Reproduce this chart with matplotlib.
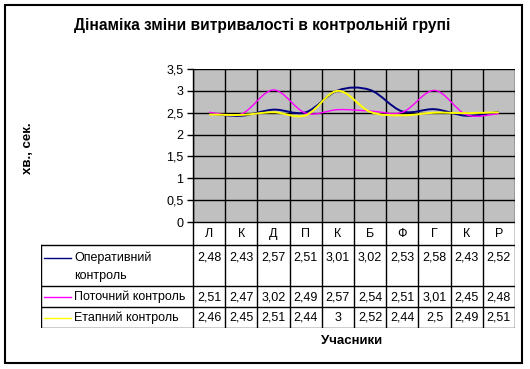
import matplotlib
matplotlib.use("Agg")

import matplotlib.pyplot as plt
import numpy as np
from matplotlib.patches import PathPatch, Rectangle
from matplotlib.path import Path

plt.rcParams["font.family"] = ["Liberation Sans", "DejaVu Sans"]

W, H = 530, 369

categories = ["Л", "К", "Д", "П", "К", "Б", "Ф", "Г", "К", "Р"]
series_names = ["Оперативний\nконтроль", "Поточний контроль", "Етапний контроль"]
operative = [2.48, 2.43, 2.57, 2.51, 3.01, 3.02, 2.53, 2.58, 2.43, 2.52]
current = [2.51, 2.47, 3.02, 2.49, 2.57, 2.54, 2.51, 3.01, 2.45, 2.48]
stage = [2.46, 2.45, 2.51, 2.44, 3, 2.52, 2.44, 2.5, 2.49, 2.51]
colors = ["#000080", "#FF00FF", "#FFFF00"]
y_ticks = [0, 0.5, 1, 1.5, 2, 2.5, 3, 3.5]

FS = 9  # table / tick font size


def px(x0, y0, x1, y1):
    # pixel box (top-left origin) -> figure fraction rect
    return [x0 / W, 1 - y1 / H, (x1 - x0) / W, (y1 - y0) / H]


def fmt(v):
    return f"{v:g}".replace(".", ",")


def smooth_path(xs, ys):
    # Excel-style smoothed line: cubic Bezier through every point
    pts = np.column_stack([xs, ys]).astype(float)
    ext = np.vstack([pts[0], pts, pts[-1]])
    verts = [pts[0]]
    codes = [Path.MOVETO]
    for i in range(len(pts) - 1):
        p0, p1, p2, p3 = ext[i], ext[i + 1], ext[i + 2], ext[i + 3]
        verts += [p1 + (p2 - p0) / 6, p2 - (p3 - p1) / 6, p2]
        codes += [Path.CURVE4] * 3
    return Path(verts, codes)


fig = plt.figure(figsize=(W / 100, H / 100), dpi=100)

# outer frame
fig.patches.append(Rectangle((5 / W, 1 - 363 / H), 517 / W, 358 / H,
                             transform=fig.transFigure, fill=False,
                             edgecolor="black", linewidth=1.5))

fig.text(262 / W, 1 - 25 / H, "Дінаміка зміни витривалості в контрольній групі",
         ha="center", va="center", fontsize=11.2, fontweight="bold")

# ── plot area ──────────────────────────────────────────────
ax = fig.add_axes(px(193, 69, 515, 222))
ax.set_facecolor("#C0C0C0")
ax.set_xlim(-0.5, len(categories) - 0.5)
ax.set_ylim(0, 3.5)
ax.set_yticks(y_ticks)
ax.set_yticklabels([fmt(v) for v in y_ticks], fontsize=FS)
ax.set_xticks([])
for k in range(len(categories) + 1):
    ax.axvline(k - 0.5, color="black", linewidth=1)
for v in y_ticks:
    ax.axhline(v, color="black", linewidth=1)
for s in ax.spines.values():
    s.set_visible(False)
ax.spines["left"].set_visible(True)
ax.spines["left"].set_linewidth(1)
ax.tick_params(axis="y", length=4, width=1, pad=3)

x = np.arange(len(categories))
for vals, c, lw in zip([operative, current, stage], colors, [1.4, 1.0, 1.4]):
    ax.add_patch(PathPatch(smooth_path(x, vals), fill=False, edgecolor=c,
                           linewidth=lw, zorder=3))

fig.text(28 / W, 1 - 148 / H, "хв., сек.", rotation=90, ha="center",
         va="center", fontsize=9.5, fontweight="bold")

# ── data table ─────────────────────────────────────────────
cw = 322 / len(categories)
lead = 152 / cw
tab = fig.add_axes(px(41, 222, 515, 328))
tab.set_xlim(-0.5 - lead, len(categories) - 0.5)
tab.set_ylim(106, 0)
tab.axis("off")

rows = [0, 23, 64, 85, 106]
lw = 1
tab.plot([-0.5, 9.5], [rows[0]] * 2, color="black", lw=lw)
for r in rows[1:]:
    tab.plot([-0.5 - lead, 9.5], [r, r], color="black", lw=lw)
for k in range(len(categories) + 1):
    tab.plot([k - 0.5] * 2, [rows[0], rows[-1]], color="black", lw=lw)
tab.plot([-0.5 - lead] * 2, [rows[1], rows[-1]], color="black", lw=lw)

for i, cat in enumerate(categories):
    tab.text(i, (rows[0] + rows[1]) / 2 + 0.5, cat, ha="center", va="center",
             fontsize=FS)

series = [operative, current, stage]
for j, (name, vals, c) in enumerate(zip(series_names, series, colors)):
    top, bot = rows[j + 1], rows[j + 2]
    yc = top + 13 if j == 0 else (top + bot) / 2 + 0.5
    x0 = -0.5 - lead
    tab.plot([x0 + 3 / cw, x0 + 30 / cw], [yc, yc], color=c, lw=1)
    for n, part in enumerate(name.split("\n")):
        tab.text(x0 + 33 / cw, yc + 18 * n, part, ha="left", va="center",
                 fontsize=FS)
    for i, v in enumerate(vals):
        tab.text(i, yc, fmt(v), ha="center", va="center", fontsize=FS)

fig.text(352 / W, 1 - 341 / H, "Учасники", ha="center", va="center",
         fontsize=9.5, fontweight="bold")

fig.savefig("out.png", dpi=100)
